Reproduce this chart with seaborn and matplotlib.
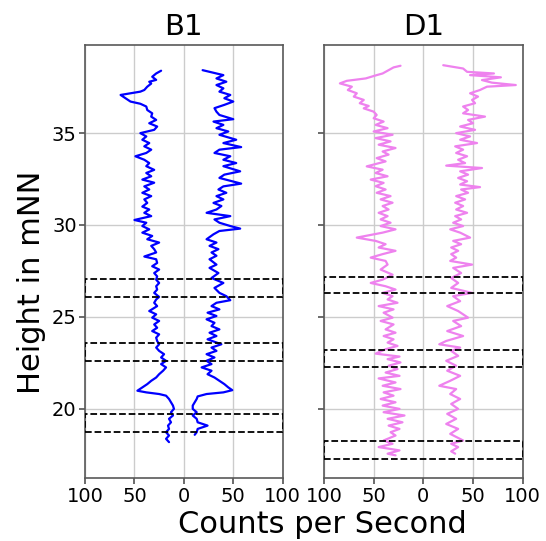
import numpy as np
import pandas as pd
import matplotlib
matplotlib.use("Agg")
import matplotlib.pyplot as plt
import seaborn as sns
from matplotlib.patches import Rectangle
from matplotlib.ticker import FuncFormatter

sns.set_theme(style="whitegrid", rc={
    "axes.edgecolor": "0.35",
    "axes.linewidth": 1.2,
    "grid.color": "0.8",
    "text.color": "black",
    "axes.labelcolor": "black",
    "xtick.bottom": True,
    "ytick.left": True,
    "xtick.color": "0.35",
    "ytick.color": "0.35",
    "xtick.labelcolor": "black",
    "ytick.labelcolor": "black",
    "xtick.major.size": 4,
    "ytick.major.size": 4,
})
plt.rcParams["font.family"] = ["DejaVu Sans"]

# --- B1 ---
b1_left_h = [38.40, 38.25, 38.07, 37.90, 37.80, 37.70, 37.53, 37.35, 37.26, 37.08, 36.90, 36.72, 36.60,
             36.45, 36.26, 36.08, 35.90, 35.72, 35.54, 35.36, 35.18, 35.00, 34.82, 34.64, 34.46, 34.28,
             34.10, 33.92, 33.74, 33.55, 33.37, 33.20, 33.00, 32.83, 32.65, 32.47, 32.30, 32.10, 31.93,
             31.75, 31.57, 31.39, 31.20, 31.00, 30.84, 30.66, 30.48, 30.27, 30.12, 29.94, 29.76, 29.58,
             29.40, 29.22, 29.04, 28.86, 28.68, 28.50, 28.28, 28.13, 27.93, 27.75, 27.57, 27.38, 27.20,
             27.02, 26.84, 26.66, 26.48, 26.30, 26.08, 25.94, 25.76, 25.58, 25.31, 25.13, 24.95, 24.77,
             24.58, 24.40, 24.22, 24.04, 23.86, 23.68, 23.50, 23.32, 23.14, 22.96, 22.78, 22.60, 22.42,
             22.24, 22.06, 21.87, 21.69, 21.51, 21.33, 21.15, 20.97, 20.88, 20.79, 20.70, 20.52, 20.34,
             20.16, 19.98, 19.80, 19.62, 19.44, 19.25, 19.07, 18.89, 18.71, 18.53, 18.35, 18.17]
b1_left_cps = [23, 28, 32, 28, 35, 33, 37, 40, 44, 64, 59, 54, 44,
               38, 37, 32, 33, 28, 35, 27, 30, 44, 38, 42, 35, 40,
               33, 38, 49, 40, 35, 38, 30, 38, 33, 42, 30, 40, 35,
               42, 33, 40, 37, 42, 35, 40, 33, 50, 38, 42, 35, 42,
               32, 37, 25, 33, 30, 28, 40, 28, 27, 32, 25, 30, 27,
               28, 25, 28, 27, 30, 25, 28, 30, 27, 35, 28, 32, 25,
               30, 27, 32, 25, 28, 27, 25, 28, 25, 20, 23, 18, 23,
               18, 21, 25, 28, 33, 37, 42, 47, 38, 25, 18, 15, 13,
               11, 10, 13, 11, 15, 13, 16, 15, 18, 15, 18, 15]

b1_right_h = [38.43, 38.34, 38.16, 37.98, 37.80, 37.62, 37.44, 37.26, 37.08, 36.90, 36.72, 36.54, 36.36,
              36.17, 35.99, 35.76, 35.63, 35.45, 35.27, 35.09, 34.91, 34.64, 34.46, 34.24, 34.10, 33.92,
              33.74, 33.55, 33.37, 33.20, 32.92, 32.74, 32.56, 32.25, 32.10, 31.93, 31.75, 31.57, 31.39,
              31.20, 31.03, 30.84, 30.66, 30.48, 30.30, 30.12, 29.94, 29.80, 29.67, 29.49, 29.22, 29.04,
              28.86, 28.68, 28.50, 28.32, 28.13, 27.84, 27.66, 27.38, 27.11, 26.84, 26.57, 26.30, 26.12,
              25.90, 25.76, 25.58, 25.40, 25.22, 25.04, 24.86, 24.67, 24.49, 24.31, 24.13, 23.95, 23.77,
              23.50, 23.32, 23.14, 22.96, 22.78, 22.60, 22.42, 22.24, 22.06, 21.87, 21.69, 21.51, 21.33,
              21.15, 21.00, 20.88, 20.79, 20.66, 20.52, 20.34, 20.16, 19.98, 19.80, 19.62, 19.44, 19.25,
              19.07, 18.89, 18.71, 18.57]
b1_right_cps = [19, 26, 40, 33, 43, 33, 40, 36, 47, 41, 50, 41, 31,
                33, 36, 50, 30, 40, 33, 45, 36, 53, 40, 58, 36, 31,
                47, 40, 53, 40, 57, 41, 36, 58, 40, 35, 43, 33, 40,
                30, 38, 33, 23, 47, 31, 36, 47, 57, 36, 30, 23, 33,
                26, 35, 28, 33, 26, 33, 26, 35, 28, 40, 31, 36, 43,
                47, 33, 28, 36, 24, 33, 23, 31, 28, 36, 26, 33, 24,
                38, 28, 33, 23, 31, 23, 28, 18, 28, 24, 31, 36, 41,
                45, 49, 40, 23, 14, 13, 11, 9, 9, 13, 9, 13, 14,
                24, 14, 13, 11]

# --- D1 ---
d1_left_h = [38.67, 38.58, 38.43, 38.25, 38.16, 37.98, 37.85, 37.71, 37.53, 37.35, 37.17, 36.99, 36.81,
             36.63, 36.48, 36.35, 36.17, 35.99, 35.81, 35.63, 35.45, 35.27, 35.09, 34.91, 34.73, 34.55,
             34.37, 34.19, 34.00, 33.83, 33.64, 33.46, 33.19, 33.01, 32.83, 32.65, 32.47, 32.29, 32.11,
             31.93, 31.75, 31.57, 31.39, 31.21, 31.03, 30.84, 30.66, 30.48, 30.30, 30.12, 29.94, 29.76,
             29.58, 29.31, 29.13, 28.95, 28.77, 28.59, 28.41, 28.22, 28.04, 27.84, 27.57, 27.29, 27.02,
             26.84, 26.66, 26.48, 26.30, 26.12, 25.94, 25.76, 25.58, 25.40, 25.22, 24.95, 24.77, 24.58,
             24.31, 24.13, 23.95, 23.77, 23.59, 23.41, 23.23, 22.99, 22.83, 22.69, 22.51, 22.33, 22.15,
             21.96, 21.78, 21.64, 21.42, 21.24, 21.06, 20.88, 20.70, 20.52, 20.34, 20.16, 19.98, 19.80,
             19.62, 19.44, 19.25, 19.07, 18.89, 18.71, 18.53, 18.26, 18.08, 17.90, 17.72, 17.54, 17.45]
d1_left_cps = [23, 30, 35, 41, 47, 58, 77, 84, 72, 76, 67, 70, 60,
               64, 55, 60, 50, 47, 50, 40, 48, 36, 50, 31, 48, 33,
               45, 28, 41, 35, 47, 38, 57, 41, 48, 36, 53, 40, 48,
               38, 47, 33, 43, 31, 41, 35, 45, 36, 43, 33, 43, 28,
               41, 67, 48, 38, 45, 28, 41, 53, 38, 36, 43, 31, 41,
               53, 38, 28, 41, 31, 36, 26, 45, 30, 40, 31, 43, 30,
               38, 28, 40, 30, 36, 26, 38, 48, 24, 36, 23, 35, 26,
               38, 24, 45, 28, 41, 23, 40, 30, 43, 28, 41, 24, 40,
               19, 36, 21, 35, 24, 33, 28, 40, 31, 45, 24, 36, 28]

d1_right_h = [38.70, 38.61, 38.52, 38.34, 38.25, 38.16, 38.04, 37.89, 37.75, 37.62, 37.53, 37.35, 37.17,
              36.99, 36.81, 36.63, 36.45, 36.26, 36.08, 35.90, 35.72, 35.54, 35.36, 35.18, 35.00, 34.82,
              34.64, 34.46, 34.28, 34.10, 33.92, 33.74, 33.55, 33.37, 33.23, 33.10, 32.92, 32.74, 32.56,
              32.38, 32.20, 32.06, 31.93, 31.75, 31.57, 31.39, 31.21, 31.03, 30.84, 30.66, 30.48, 30.30,
              30.12, 29.94, 29.76, 29.58, 29.31, 29.13, 28.95, 28.77, 28.59, 28.41, 28.22, 28.04, 27.84,
              27.66, 27.38, 27.11, 26.84, 26.57, 26.30, 26.12, 25.85, 25.58, 25.31, 24.95, 24.77, 24.49,
              24.22, 23.95, 23.68, 23.50, 23.32, 23.14, 22.87, 22.60, 22.33, 22.06, 21.78, 21.51, 21.24,
              21.06, 20.79, 20.52, 20.25, 19.98, 19.71, 19.44, 19.16, 18.89, 18.62, 18.26, 18.08, 17.90,
              17.67, 17.54]
d1_right_cps = [20, 30, 40, 44, 71, 47, 78, 59, 69, 93, 64, 57, 47,
                55, 49, 52, 40, 45, 40, 62, 45, 50, 37, 52, 33, 47,
                37, 54, 32, 40, 33, 44, 35, 42, 23, 59, 37, 45, 35,
                44, 37, 57, 38, 45, 33, 42, 32, 40, 33, 44, 32, 38,
                30, 40, 27, 37, 47, 30, 38, 28, 35, 28, 33, 27, 49,
                30, 38, 28, 35, 28, 49, 30, 37, 24, 35, 45, 30, 38,
                24, 40, 23, 16, 37, 28, 35, 23, 33, 24, 37, 27, 16,
                33, 27, 37, 28, 35, 24, 33, 23, 35, 27, 40, 28, 35,
                28, 32]

# dashed boxes (bottom, top) in mNN
b1_boxes = [(26.10, 27.07), (22.57, 23.55), (18.71, 19.71)]
d1_boxes = [(26.27, 27.16), (22.28, 23.19), (17.23, 18.21)]

panels = [
    ("B1", b1_left_h, b1_left_cps, b1_right_h, b1_right_cps, b1_boxes, "blue"),
    ("D1", d1_left_h, d1_left_cps, d1_right_h, d1_right_cps, d1_boxes, "violet"),
]

fig = plt.figure(figsize=(5.46, 5.41), dpi=100)
ax1 = fig.add_axes([0.1557, 0.1159, 0.362, 0.8009])
ax2 = fig.add_axes([0.5934, 0.1159, 0.364, 0.8009], sharey=ax1)

for ax, (name, lh, lc, rh, rc, boxes, color) in zip([ax1, ax2], panels):
    left = pd.DataFrame({"h": lh, "cps": -np.array(lc)})
    right = pd.DataFrame({"h": rh, "cps": np.array(rc)})
    for df in (left, right):
        sns.lineplot(data=df, x="cps", y="h", orient="y", sort=False, estimator=None,
                     color=color, linewidth=1.6, ax=ax)
    for lo, hi in boxes:
        ax.add_patch(Rectangle((-100, lo), 200, hi - lo, fill=False, edgecolor="black",
                               linestyle="--", linewidth=1.3, zorder=3))
    ax.set_xlim(-100, 100)
    ax.set_xticks([-100, -50, 0, 50, 100])
    ax.xaxis.set_major_formatter(FuncFormatter(lambda v, p: f"{abs(v):g}"))
    ax.tick_params(labelsize=14, pad=2)
    ax.set_title(name, fontsize=21, pad=7, color="black")
    ax.set_xlabel("")
    ax.set_ylabel("")

ax1.set_ylim(16.2, 39.8)
ax1.set_yticks([20, 25, 30, 35])
ax2.tick_params(labelleft=False)

fig.text(0.59, 0.0148, "Counts per Second", ha="center", va="baseline", fontsize=22, color="black")
fig.text(0.057, 0.478, "Height in mNN", ha="center", va="center", rotation=90, fontsize=22,
         color="black")

fig.savefig("out.png", dpi=100)
